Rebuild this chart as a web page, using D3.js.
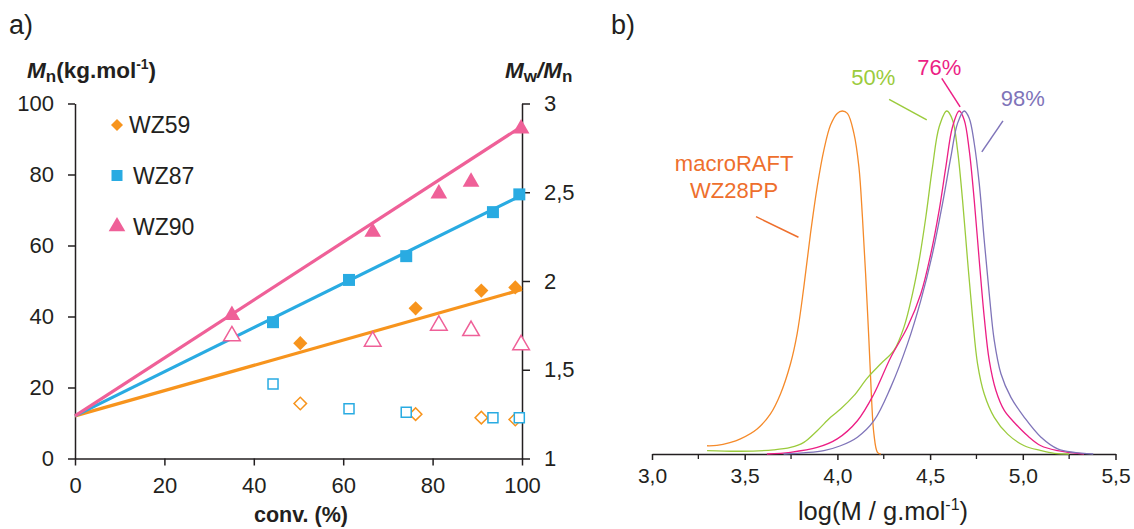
<!DOCTYPE html>
<html><head><meta charset="utf-8">
<script src="https://cdn.jsdelivr.net/npm/d3@7"></script>
<style>
html,body{margin:0;padding:0;background:#fff;}
svg{display:block;font-family:"Liberation Sans",Arial,sans-serif;}
</style></head>
<body>
<svg id="chart" width="1134" height="529"></svg>
<script>
// ---------- Panel a) data ----------
const xTicksA = [0, 20, 40, 60, 80, 100];
const yTicksA = [0, 20, 40, 60, 80, 100];
const yTicksRightA = [1, 1.5, 2, 2.5, 3];
const seriesNames = ["WZ59", "WZ87", "WZ90"];
const conv59 = [50.4, 76.2, 90.9, 98.5];
const mn59 = [32.5, 42.3, 47.3, 48.2];
const disp59 = [1.31, 1.25, 1.23, 1.22];
const conv87 = [44.3, 61.3, 74.1, 93.5, 99.4];
const mn87 = [38.4, 50.3, 57.0, 69.4, 74.4];
const disp87 = [1.42, 1.28, 1.26, 1.23, 1.23];
const conv90 = [35.1, 66.6, 81.4, 88.6, 99.8];
const mn90 = [40.4, 63.8, 74.6, 77.9, 92.9];
const disp90 = [1.69, 1.66, 1.75, 1.72, 1.64];
const fitConv = [0, 100];
const fit59 = [12, 47.6];
const fit87 = [12, 74.2];
const fit90 = [12, 93.6];

// ---------- Panel b) data ----------
const xTicksB = [3.0, 3.5, 4.0, 4.5, 5.0, 5.5];
const xMinorB = [3.25, 3.75, 4.25, 4.75, 5.25];
const curveNames = ["macroRAFT WZ28PP", "50%", "76%", "98%"];
const logMacro = [3.297,3.35,3.42,3.477,3.567,3.639,3.693,3.747,3.783,3.819,3.855,3.891,3.927,3.963,3.999,4.026,4.054,4.089,4.116,4.135,4.152,4.170,4.183,4.197,4.216,4.234];
const wMacro   = [0.024,0.025,0.033,0.044,0.073,0.117,0.175,0.263,0.351,0.487,0.643,0.779,0.886,0.959,0.993,1.000,0.993,0.935,0.837,0.691,0.526,0.331,0.175,0.058,0.005,0.0];
const log50 = [3.297,3.477,3.657,3.747,3.819,3.891,3.963,4.017,4.089,4.162,4.234,4.305,4.359,4.405,4.441,4.477,4.513,4.549,4.590,4.621,4.648,4.675,4.702,4.729,4.756,4.792,4.846,4.918,5.008,5.098,5.170,5.25];
const w50   = [0.010,0.008,0.012,0.019,0.034,0.068,0.107,0.131,0.170,0.222,0.263,0.302,0.370,0.467,0.565,0.691,0.837,0.954,1.000,0.974,0.886,0.740,0.565,0.399,0.263,0.175,0.107,0.058,0.024,0.010,0.002,0.0];
const log76 = [3.62,3.747,3.891,3.999,4.108,4.197,4.288,4.378,4.450,4.504,4.549,4.585,4.621,4.657,4.684,4.711,4.738,4.765,4.792,4.819,4.855,4.900,4.954,5.026,5.098,5.188,5.33];
const w76   = [0.0,0.005,0.019,0.044,0.097,0.175,0.282,0.370,0.467,0.584,0.711,0.837,0.954,1.000,0.974,0.886,0.740,0.565,0.399,0.273,0.185,0.127,0.092,0.053,0.024,0.010,0.0];
const log98 = [3.71,3.927,4.017,4.108,4.197,4.288,4.378,4.450,4.513,4.567,4.612,4.648,4.684,4.711,4.738,4.765,4.792,4.819,4.846,4.882,4.936,5.008,5.098,5.188,5.38];
const w98   = [0.0,0.010,0.024,0.049,0.097,0.195,0.321,0.448,0.584,0.730,0.866,0.964,1.000,0.979,0.906,0.789,0.623,0.467,0.331,0.234,0.165,0.107,0.049,0.015,0.0];

const FONT = '"Liberation Sans", Arial, sans-serif';
const AX = "#231f20";
const cOrange = "#f7941d", cBlue = "#29abe2", cPink = "#ef6098";
const svg = d3.select("#chart");

// ================= Panel a =================
const xA = d3.scaleLinear().domain([0, 100]).range([75, 522]);
const yA = d3.scaleLinear().domain([0, 100]).range([458.5, 103.5]);
const yR = d3.scaleLinear().domain([1, 3]).range([458.5, 103.5]);

function styleAxis(g, fs) {
  g.select(".domain").attr("stroke", AX).attr("stroke-width", 1.5);
  g.selectAll(".tick line").attr("stroke", AX).attr("stroke-width", 1.5);
  g.selectAll(".tick text").attr("fill", AX).attr("font-size", fs).attr("font-family", FONT);
}
const commaFmt = d => String(d).replace(".", ",");

const gL = svg.append("g").attr("transform", `translate(${xA(0)},0)`)
  .call(d3.axisLeft(yA).tickValues(yTicksA).tickSize(7).tickSizeOuter(0).tickPadding(14));
styleAxis(gL, 22);
const gR = svg.append("g").attr("transform", `translate(${xA(100)},0)`)
  .call(d3.axisRight(yR).tickValues(yTicksRightA).tickSize(8).tickSizeOuter(0).tickPadding(14).tickFormat(commaFmt));
styleAxis(gR, 22);
const gB = svg.append("g").attr("transform", `translate(0,${yA(0)})`)
  .call(d3.axisBottom(xA).tickValues(xTicksA).tickSize(7).tickSizeOuter(0).tickPadding(12));
styleAxis(gB, 22);

// fit lines
const fitLine = d3.line().x(d => xA(d[0])).y(d => yA(d[1]));
[[fit59, cOrange], [fit87, cBlue], [fit90, cPink]].forEach(([f, c]) => {
  svg.append("path").datum(fitConv.map((x, i) => [x, f[i]]))
    .attr("d", fitLine).attr("fill", "none").attr("stroke", c).attr("stroke-width", 3.2);
});

function drawMarker(sel, type, filled, color, size) {
  let gen;
  if (type === "diamond" || type === "square") gen = d3.symbol().type(d3.symbolSquare).size(size);
  else gen = d3.symbol().type(d3.symbolTriangle).size(size);
  sel.append("path").attr("d", gen)
    .attr("fill", filled ? color : "#fff")
    .attr("stroke", color).attr("stroke-width", filled ? 0 : 1.5);
}
function plotSeries(conv, vals, scale, type, filled, color, size) {
  conv.forEach((c, i) => {
    const g = svg.append("g").attr("transform",
      `translate(${xA(c)},${scale(vals[i])})` + (type === "diamond" ? " rotate(45)" : ""));
    drawMarker(g, type, filled, color, size);
  });
}
// open (dispersity)
plotSeries(conv59, disp59, yR, "diamond", false, cOrange, 78);
plotSeries(conv87, disp87, yR, "square", false, cBlue, 100);
plotSeries(conv90, disp90, yR, "triangle", false, cPink, 120);
// filled (Mn)
plotSeries(conv90, mn90, yA, "triangle", true, cPink, 120);
plotSeries(conv87, mn87, yA, "square", true, cBlue, 144);
plotSeries(conv59, mn59, yA, "diamond", true, cOrange, 100);

// legend
const legend = [
  {name: seriesNames[0], type: "diamond", color: cOrange, y: 125, tx: 129, size: 72},
  {name: seriesNames[1], type: "square", color: cBlue, y: 175.5, tx: 133, size: 121},
  {name: seriesNames[2], type: "triangle", color: cPink, y: 226.5, tx: 133, size: 120}
];
legend.forEach(l => {
  const g = svg.append("g").attr("transform", `translate(117,${l.y})` + (l.type === "diamond" ? " rotate(45)" : ""));
  drawMarker(g, l.type, true, l.color, l.size);
  svg.append("text").attr("x", l.tx).attr("y", l.y).attr("dy", "0.36em")
    .attr("font-size", 23).attr("fill", AX).attr("font-family", FONT).text(l.name);
});

// titles
svg.append("text").attr("x", 9).attr("y", 34).attr("font-size", 27).attr("fill", AX).text("a)");
const t1 = svg.append("text").attr("x", 27).attr("y", 78).attr("font-size", 22.5).attr("font-weight", "bold").attr("fill", AX);
t1.append("tspan").attr("font-style", "italic").text("M");
t1.append("tspan").attr("font-size", 17).attr("dy", 4).text("n");
t1.append("tspan").attr("dy", -4).text("(kg.mol");
t1.append("tspan").attr("font-size", 14).attr("dy", -9).text("-1");
t1.append("tspan").attr("dy", 9).text(")");
const t2 = svg.append("text").attr("x", 505).attr("y", 78).attr("font-size", 22.5).attr("font-weight", "bold").attr("fill", AX);
t2.append("tspan").attr("font-style", "italic").text("M");
t2.append("tspan").attr("font-size", 17).attr("dy", 4).text("w");
t2.append("tspan").attr("dy", -4).attr("font-style", "italic").text("/M");
t2.append("tspan").attr("font-size", 17).attr("dy", 4).text("n");
svg.append("text").attr("x", 301).attr("y", 522).attr("text-anchor", "middle")
  .attr("font-size", 21.5).attr("font-weight", "bold").attr("fill", AX).text("conv. (%)");

// ================= Panel b =================
const xB = d3.scaleLinear().domain([3.0, 5.5]).range([652, 1115.5]);
const yB = d3.scaleLinear().domain([0, 1]).range([454, 111]);

const gBB = svg.append("g").attr("transform", `translate(0,${yB(0)})`)
  .call(d3.axisBottom(xB).tickValues(xTicksB).tickSize(6).tickSizeOuter(0).tickPadding(8)
    .tickFormat(d => d3.format(".1f")(d).replace(".", ",")));
styleAxis(gBB, 21);
gBB.selectAll(".minor").data(xMinorB).enter().append("line")
  .attr("x1", d => xB(d)).attr("x2", d => xB(d)).attr("y1", 0).attr("y2", 5)
  .attr("stroke", AX).attr("stroke-width", 1.3);

const cMacro = "#f58a2a", c50 = "#9bcb3c", c76 = "#ec1e85", c98 = "#7f74b9";
const curve = d3.line().x(d => xB(d[0])).y(d => yB(d[1])).curve(d3.curveCatmullRom.alpha(0.5));
[[logMacro, wMacro, cMacro], [log50, w50, c50], [log76, w76, c76], [log98, w98, c98]].forEach(([lx, ly, c]) => {
  svg.append("path").datum(lx.map((x, i) => [x, ly[i]]))
    .attr("d", curve).attr("fill", "none").attr("stroke", c).attr("stroke-width", 1.3);
});

// annotations
function leader(x1, y1, x2, y2, c) {
  svg.append("line").attr("x1", xB(x1)).attr("y1", yB(y1)).attr("x2", xB(x2)).attr("y2", yB(y2))
    .attr("stroke", c).attr("stroke-width", 1.5);
}
function label(x, y, txt, c) {
  svg.append("text").attr("x", xB(x)).attr("y", yB(y)).attr("dy", "0.36em").attr("text-anchor", "middle")
    .attr("font-size", 22).attr("fill", c).attr("font-family", FONT).text(txt);
}
const cMacroTxt = "#ee6f2d";
label(3.443, 0.848, "macroRAFT", cMacroTxt);
label(3.443, 0.770, "WZ28PP", cMacroTxt);
leader(3.561, 0.692, 3.790, 0.632, cMacroTxt);
label(4.193, 1.099, curveNames[1], c50);
leader(4.279, 1.034, 4.482, 0.974, c50);
label(4.549, 1.128, curveNames[2], c76);
leader(4.563, 1.095, 4.662, 1.012, c76);
label(5.0, 1.038, curveNames[3], c98);
leader(4.893, 0.971, 4.779, 0.881, c98);

svg.append("text").attr("x", 611).attr("y", 34).attr("font-size", 27).attr("fill", AX).text("b)");
const t3 = svg.append("text").attr("x", 883).attr("y", 520).attr("text-anchor", "middle")
  .attr("font-size", 25.5).attr("fill", AX);
t3.append("tspan").text("log(M / g.mol");
t3.append("tspan").attr("font-size", 16).attr("dy", -10).text("-1");
t3.append("tspan").attr("dy", 10).text(")");
</script>
</body></html>
